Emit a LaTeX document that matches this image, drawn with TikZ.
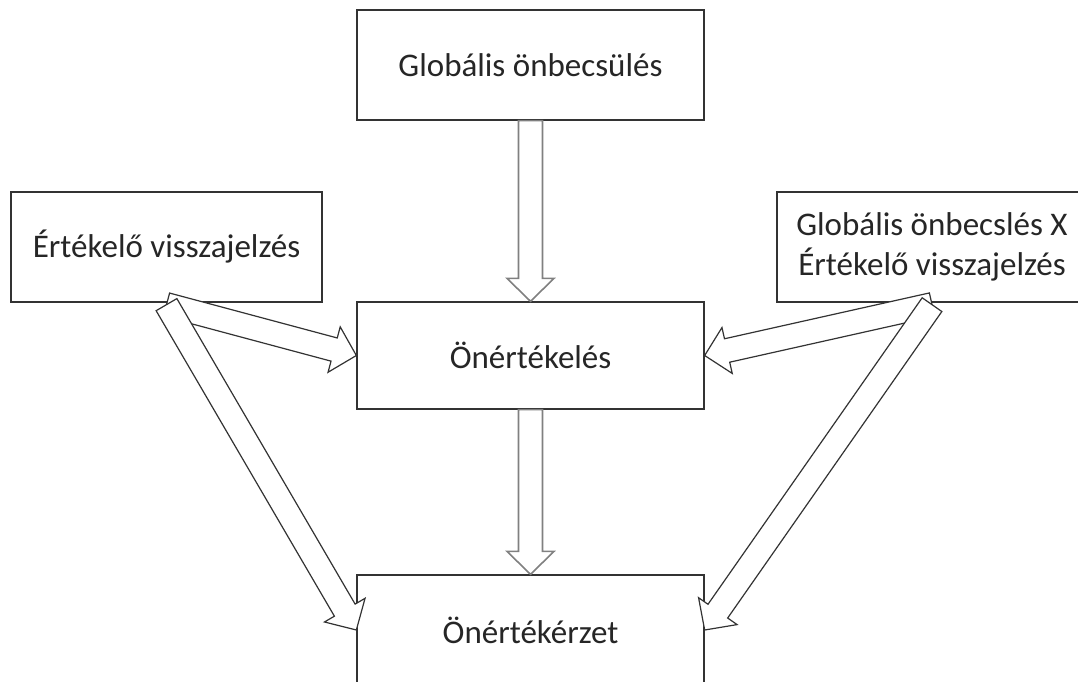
\documentclass[tikz,border=0pt]{standalone}
\usepackage{fontspec}
\setmainfont{Carlito}
\usetikzlibrary{calc}

% hollow block arrow from #2 (tail) to #3 (tip)
\newcommand\hollowarrow[3]{%
  \draw[#1]
    ($(#2)!12pt!90:(#3)$) --
    ($(#3)!23pt!(#2)!12pt!-90:(#2)$) --
    ($(#3)!23pt!(#2)!23.5pt!-90:(#2)$) --
    (#3) --
    ($(#3)!23pt!(#2)!23.5pt!90:(#2)$) --
    ($(#3)!23pt!(#2)!12pt!90:(#2)$) --
    ($(#2)!12pt!-90:(#3)$) -- cycle;}

\tikzset{
  box/.style={draw=black!80, line width=1.3pt, fill=white, align=center,
    inner sep=0pt, font=\fontsize{33}{40}\selectfont, text=black!85},
  vflow/.style={draw=black!50, line width=1.6pt, fill=white, line join=miter},
  dflow/.style={draw=black!80, line width=1.2pt, fill=white, line join=miter},
}

\begin{document}
\begin{tikzpicture}[x=1pt, y=-1pt]
  \useasboundingbox[fill=white] (0,0) rectangle (1078,682);

  \node[box, minimum width=347pt, minimum height=110pt] (glob) at (530.5,65) {Globális önbecsülés};
  \node[box, minimum width=311pt, minimum height=110pt] (feed) at (166.5,247) {Értékelő visszajelzés};
  \node[box, minimum width=310pt, minimum height=110pt] (inter) at (932,247) {Globális önbecslés X\\Értékelő visszajelzés};
  \node[box, minimum width=347pt, minimum height=107pt] (eval) at (530.5,355.5) {Önértékelés};
  \node[box, minimum width=347pt, minimum height=110pt] (sense) at (530.5,630) {Önértékérzet};

  \coordinate (feedout) at ($(feed.south)+(0,2)$);
  \coordinate (interout) at ($(inter.south)+(0,2)$);

  \hollowarrow{vflow}{glob.south}{eval.north}
  \hollowarrow{vflow}{eval.south}{sense.north}

  \hollowarrow{dflow}{feedout}{eval.west}
  \hollowarrow{dflow}{feedout}{sense.west}
  \hollowarrow{dflow}{interout}{eval.east}
  \hollowarrow{dflow}{interout}{sense.east}
\end{tikzpicture}
\end{document}
